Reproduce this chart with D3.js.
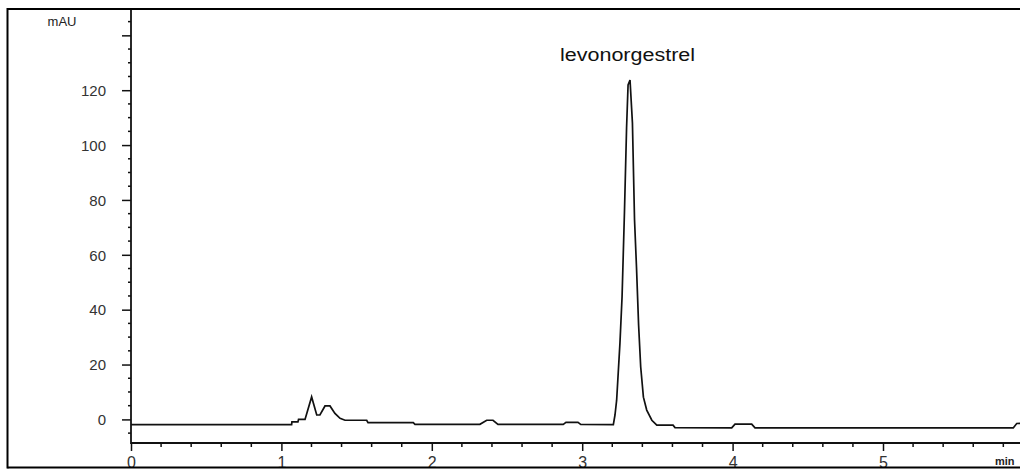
<!DOCTYPE html>
<html>
<head>
<meta charset="utf-8">
<script src="https://cdn.jsdelivr.net/npm/d3@7"></script>
<style>
body{margin:0;background:#fff;}
svg{display:block;}
text{font-family:"Liberation Sans",Arial,sans-serif;fill:#222;}
</style>
</head>
<body>
<script>
//chromatogram data (time in min, signal in mAU)
let timeMin=[0,1.068,1.070,1.110,1.114,1.157,1.201,1.235,1.256,1.290,1.323,1.356,1.390,1.423,1.567,1.576,1.877,1.888,
    2.320,2.365,2.407,2.440,2.874,2.892,2.972,2.990,3.207,3.218,3.229,3.251,3.265,3.281,3.295,3.305,3.318,3.334,
    3.348,3.361,3.375,3.389,3.407,3.429,3.463,3.496,3.604,3.617,3.994,4.016,4.127,4.149,5.866,5.889,5.944];
let signal=[-1.9,-1.9,-0.9,-0.9,0.0,0.0,8.2,1.6,1.6,4.9,4.9,2.2,0.4,-0.3,-0.3,-1.2,-1.2,-1.8,
    -1.8,-0.3,-0.3,-1.8,-1.8,-1.1,-1.1,-1.8,-1.9,1.6,7.0,27.8,44.6,75.6,106.2,121.9,123.7,108.0,
    72.7,55.5,34.4,19.1,8.1,3.4,-0.3,-2.1,-2.1,-3.0,-3.1,-1.7,-1.7,-3.1,-3.1,-1.5,-1.4];
let peakName="levonorgestrel";
let peakTime=3.318;

let yTicks=[0,20,40,60,80,100,120,140];
let yTickLabels=["0","20","40","60","80","100","120",""];
let xTicks=[0,1,2,3,4,5];
let xTickLabels=["0","1","2","3","4","5"];

//canvas
let width=1020,height=470;
let svg=d3.select("body").append("svg").attr("width",width).attr("height",height);

let x=d3.scaleLinear().domain([0,6]).range([131,131+902.4]);
let y=d3.scaleLinear().domain([-8.6,149.6]).range([443,9]);

svg.append("clipPath").attr("id","plot")
    .append("rect").attr("x",131).attr("y",9).attr("width",width-131).attr("height",434);

//trace
let data=timeMin.map((t,i)=>({t:t,v:signal[i]}));
let line=d3.line().x(d=>x(d.t)).y(d=>y(d.v));
svg.append("path").datum(data)
    .attr("d",line)
    .attr("clip-path","url(#plot)")
    .style("fill","none").style("stroke","#111").style("stroke-width",1.7);

//y axis
let yAxis=d3.axisLeft(y).tickValues(yTicks).tickFormat((d,i)=>yTickLabels[i]).tickSize(9).tickPadding(16);
let gy=svg.append("g").attr("transform","translate(131,0)").call(yAxis);
gy.select(".domain").remove();
gy.selectAll("line").style("stroke","#111").style("stroke-width",1.5);
gy.selectAll("text").style("font-size","15px").attr("dy","0.35em").style("fill","#333");
let yMinor=d3.range(-5,150,5).filter(v=>v%20!=0);
svg.append("g").selectAll("line").data(yMinor).enter().append("line")
    .attr("x1",128).attr("x2",131)
    .attr("y1",d=>y(d)).attr("y2",d=>y(d))
    .style("stroke","#111").style("stroke-width",1.5);

//x axis
let xAxis=d3.axisBottom(x).tickValues(xTicks).tickFormat((d,i)=>xTickLabels[i]).tickSize(8).tickPadding(6);
let gx=svg.append("g").attr("transform","translate(0,443)").call(xAxis);
gx.select(".domain").remove();
gx.selectAll("line").style("stroke","#111").style("stroke-width",1.5);
gx.selectAll("text").style("font-size","16px").style("fill","#333");
let xMinor=d3.range(0.2,5.95,0.2).filter(v=>Math.abs(v-Math.round(v))>0.01);
svg.append("g").selectAll("line").data(xMinor).enter().append("line")
    .attr("x1",d=>x(d)).attr("x2",d=>x(d))
    .attr("y1",443).attr("y2",447)
    .style("stroke","#111").style("stroke-width",1.5);

//axis lines
svg.append("line").attr("x1",131).attr("x2",width).attr("y1",443).attr("y2",443)
    .style("stroke","#111").style("stroke-width",1.8);
svg.append("line").attr("x1",131).attr("x2",131).attr("y1",9).attr("y2",444)
    .style("stroke","#111").style("stroke-width",1.8);

//labels
svg.append("text").attr("x",62).attr("y",26).attr("text-anchor","middle")
    .style("font-size","13px").text("mAU");
svg.append("text").attr("x",995).attr("y",465)
    .style("font-size","11px").style("font-weight","bold").text("min");
svg.append("text").attr("x",x(peakTime)-70).attr("y",61)
    .attr("textLength",135).attr("lengthAdjust","spacingAndGlyphs")
    .style("font-size","18px").style("fill","#111").text(peakName);

//outer frame
svg.append("line").attr("x1",7.5).attr("x2",width).attr("y1",9).attr("y2",9).style("stroke","#000").style("stroke-width",2);
svg.append("line").attr("x1",7.5).attr("x2",width).attr("y1",467.5).attr("y2",467.5).style("stroke","#000").style("stroke-width",2);
svg.append("line").attr("x1",7.5).attr("x2",7.5).attr("y1",8).attr("y2",468.5).style("stroke","#000").style("stroke-width",2);
</script>
</body>
</html>
